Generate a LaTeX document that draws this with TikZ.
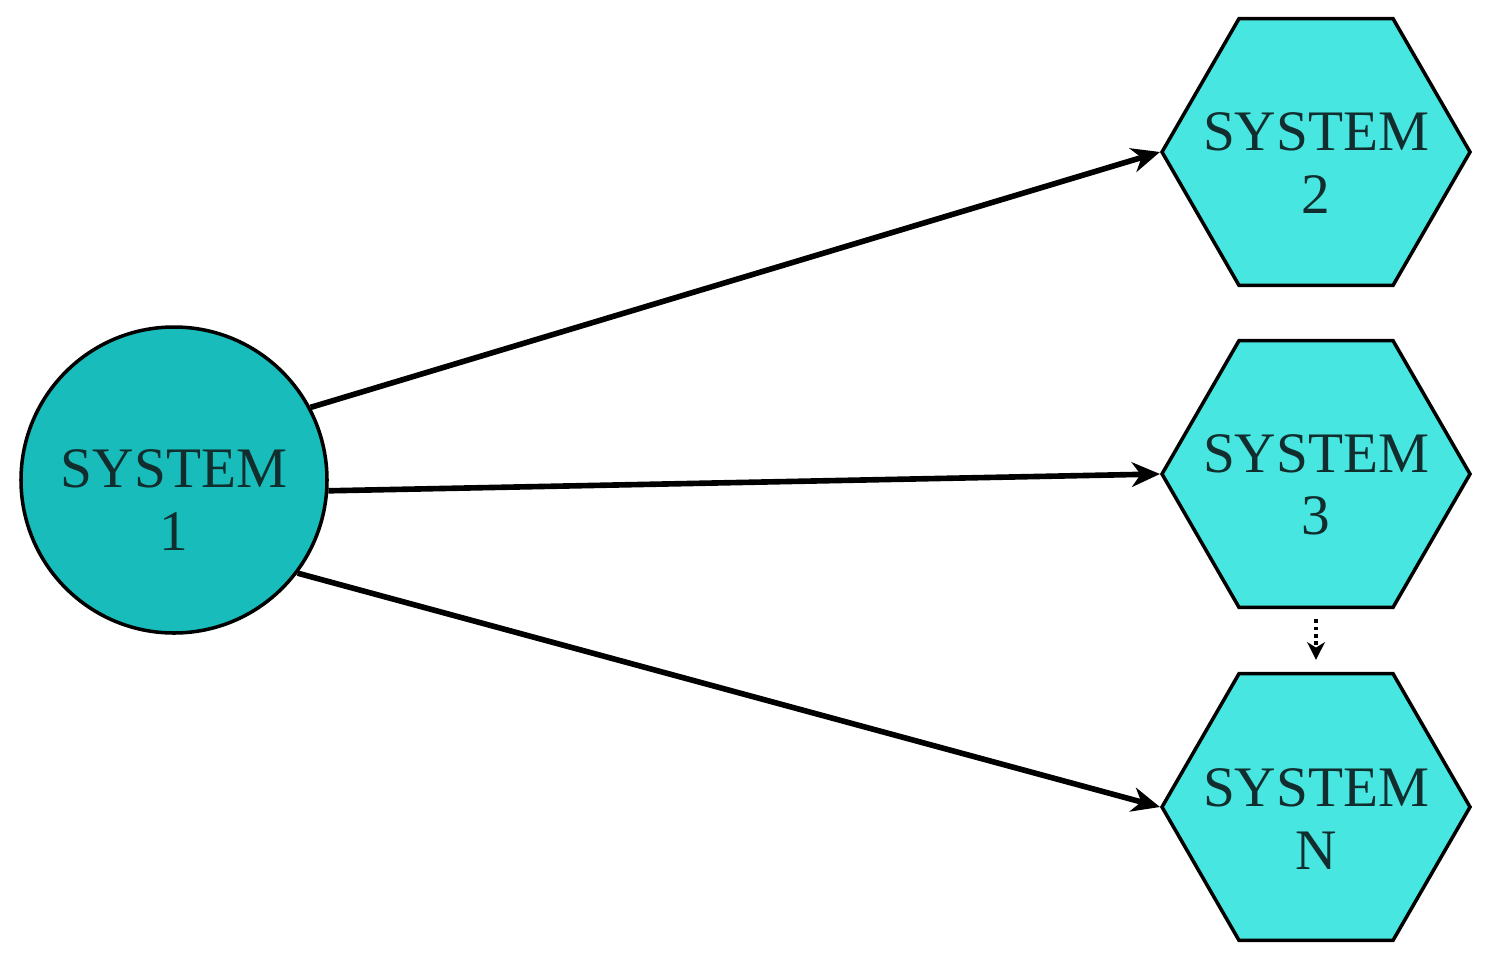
\documentclass[tikz,border=0pt]{standalone}
\usepackage{fontspec}
\setmainfont{Liberation Serif}
\usetikzlibrary{shapes.geometric,arrows.meta}
\definecolor{sysdark}{RGB}{24,188,186}
\definecolor{syslight}{RGB}{72,230,225}
\definecolor{systext}{RGB}{18,45,45}
\begin{document}
\begin{tikzpicture}[>={Stealth[length=8pt,width=7pt,inset=2.5pt]}, font=\fontsize{16.3}{17.8}\selectfont]
        \tikzset{sysnode/.style={draw, line width=1pt, inner sep=0pt},
                 lbl/.style={align=center, text=systext, inner sep=0pt},
                 hexbox/.style={sysnode, regular polygon, regular polygon sides=6, minimum size=3.08cm, fill=syslight},
                 conn/.style={->, line width=1.6pt}}
        \useasboundingbox (0,0) rectangle (14.87,9.60);
        \node[sysnode, circle, minimum size=3.06cm, fill=sysdark,
              label={[lbl, yshift=-0.2cm]center:SYSTEM\\1}] (s1) at (1.74,4.80) {};
        \node[hexbox, label={[lbl, yshift=-0.11cm]center:SYSTEM\\2}] (s2) at (13.16,8.08) {};
        \node[hexbox, label={[lbl, yshift=-0.11cm]center:SYSTEM\\3}] (s3) at (13.16,4.86) {};
        \node[hexbox, label={[lbl, yshift=-0.12cm]center:SYSTEM\\N}] (sn) at (13.16,1.53) {};
        \draw[conn] (s1.28) -- (s2.west);
        \draw[conn] (s1.-4) -- (s3.west);
        \draw[conn] (s1.-37) -- (sn.west);
        \draw[-{Stealth[length=5pt,width=5pt,inset=1.5pt]}, densely dotted, line width=1.1pt,
              shorten <=0.1cm, shorten >=0.12cm] (s3.south) -- (sn.north);
    \end{tikzpicture}
\end{document}
